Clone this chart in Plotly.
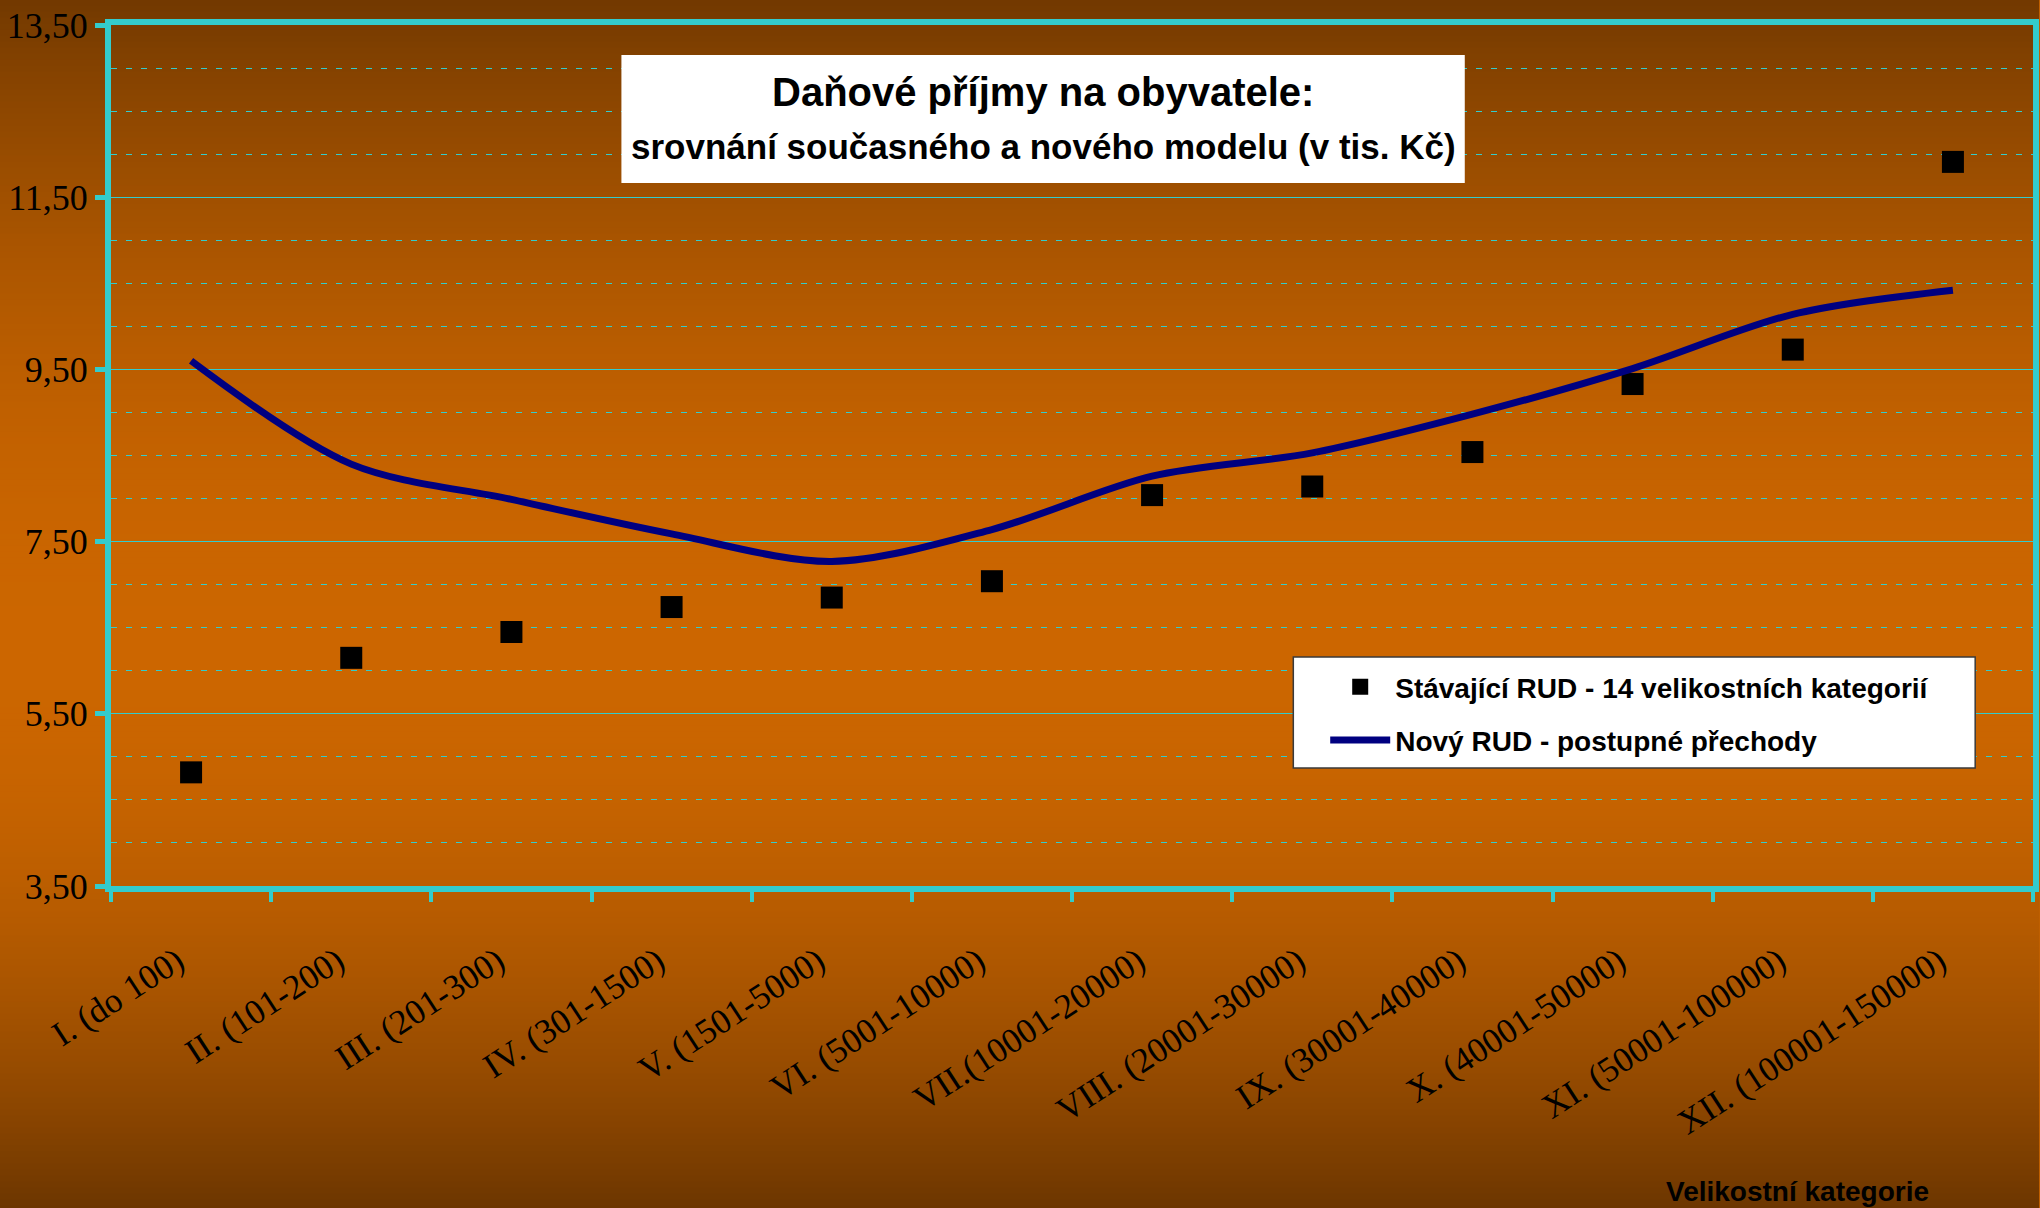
import plotly.graph_objects as go

# ---------------- data ----------------
categories = ["I. (do 100)", "II. (101-200)", "III. (201-300)", "IV. (301-1500)",
              "V. (1501-5000)", "VI. (5001-10000)", "VII.(10001-20000)",
              "VIII. (20001-30000)", "IX. (30001-40000)", "X. (40001-50000)",
              "XI. (50001-100000)", "XII. (100001-150000)"]
current_rud = [4.82, 6.15, 6.45, 6.74, 6.85, 7.04, 8.04, 8.14, 8.54, 9.33, 9.73, 11.91]
new_rud = [9.60, 8.40, 7.99, 7.59, 7.27, 7.64, 8.26, 8.53, 8.98, 9.51, 10.14, 10.42]
y_ticks = [3.5, 5.5, 7.5, 9.5, 11.5, 13.5]

name_current = "Stávající RUD - 14 velikostních kategorií"
name_new = "Nový RUD - postupné přechody"
title_1 = "Daňové příjmy na obyvatele:"
title_2 = "srovnání současného a nového modelu (v tis. Kč)"
x_title = "Velikostní kategorie"

# ---------------- geometry ----------------
W, H = 2040, 1208
ML, MR, MT, MB = 111, 1, 25, 322
PW, PH = W - ML - MR, H - MT - MB

def px(x):
    return (x - ML) / PW

def py(y):
    return (H - MB - y) / PH

SANS = "Liberation Sans, Arial, sans-serif"
SERIF = "Liberation Serif, Times New Roman, serif"
CYAN = "#33CCCC"

# ---------------- background gradient ----------------
top_c, peak_c, bot_c = (114, 57, 0), (204, 102, 0), (108, 54, 0)
peak_t = 0.54

def grad(t):
    if t <= peak_t:
        s = (peak_t - t) / peak_t
        end = top_c
    else:
        s = (t - peak_t) / (1 - peak_t)
        end = bot_c
    f = s * s
    return "rgb(%d,%d,%d)" % tuple(round(p + (e - p) * f) for p, e in zip(peak_c, end))

shapes = []
step = 6
for y0 in range(0, H, step):
    y1 = min(H, y0 + step)
    shapes.append(dict(type="rect", xref="paper", yref="paper",
                       x0=px(-5), x1=px(W + 5), y0=py(y0 - 0.5), y1=py(y1 + 0.5),
                       fillcolor=grad((y0 + y1) / 2 / H), line=dict(width=0),
                       layer="below"))

# title box and legend box
shapes.append(dict(type="rect", xref="paper", yref="paper",
                   x0=px(623), x1=px(1469), y0=py(183), y1=py(55),
                   fillcolor="white", line=dict(width=0), layer="above"))
shapes.append(dict(type="rect", xref="paper", yref="paper",
                   x0=px(1297), x1=px(1981), y0=py(768), y1=py(657),
                   fillcolor="white", line=dict(width=1.5, color="#3a3a3a"), layer="above"))

fig = go.Figure()
fig.add_trace(go.Scatter(x=categories, y=current_rud, mode="markers",
                         name="<b>%s</b>" % name_current, legendgroup="a",
                         marker=dict(symbol="square", size=22, color="black",
                                     line=dict(width=0))))
fig.add_trace(go.Scatter(x=categories, y=new_rud, mode="lines",
                         name="<b>%s</b>" % name_new, legendgroup="b",
                         line=dict(color="#000080", width=7, shape="spline", smoothing=0.9)))

annotations = [
    dict(text="<b>%s</b>" % title_1, x=px(1046), y=py(92), xref="paper", yref="paper",
         showarrow=False, font=dict(family=SANS, size=40, color="black"),
         xanchor="center", yanchor="middle"),
    dict(text="<b>%s</b>" % title_2, x=px(1046), y=py(147), xref="paper", yref="paper",
         showarrow=False, font=dict(family=SANS, size=35, color="black"),
         xanchor="center", yanchor="middle"),
    dict(text="<b>%s</b>" % x_title, x=px(1803), y=py(1191), xref="paper", yref="paper",
         showarrow=False, font=dict(family=SANS, size=28, color="black"),
         xanchor="center", yanchor="middle"),
]

fig.update_layout(
    width=W, height=H,
    margin=dict(l=ML, r=MR, t=MT, b=MB, pad=0),
    paper_bgcolor="rgb(190,95,0)",
    plot_bgcolor="rgba(0,0,0,0)",
    separators=", ",
    shapes=shapes,
    annotations=annotations,
    showlegend=True,
    legend=dict(x=px(1329), y=py(662), xanchor="left", yanchor="top",
                bgcolor="rgba(0,0,0,0)", borderwidth=0,
                font=dict(family=SANS, size=28, color="black"),
                itemwidth=60, tracegroupgap=14, traceorder="grouped",
                itemsizing="trace"),
    xaxis=dict(type="category", range=[-0.5, len(categories) - 0.5],
               showline=True, linecolor=CYAN, linewidth=6, mirror=True,
               ticks="outside", tickson="boundaries", ticklen=10, tickwidth=4,
               tickcolor=CYAN, tickangle=-33, ticklabelstandoff=35,
               ticklabelshift=-14,
               tickfont=dict(family=SERIF, size=35, color="black"),
               showgrid=False, zeroline=False),
    yaxis=dict(range=[3.5, 13.5], tickmode="array", tickvals=y_ticks, tickformat=".2f",
               showline=True, linecolor=CYAN, linewidth=6, mirror=True,
               ticks="outside", ticklen=10, tickwidth=5, tickcolor=CYAN,
               tickfont=dict(family=SERIF, size=36, color="black"),
               showgrid=True, gridcolor=CYAN, gridwidth=1, zeroline=False,
               minor=dict(tickmode="linear", tick0=3.5, dtick=0.5, showgrid=True,
                          gridcolor=CYAN, gridwidth=1, griddash="6px,9px")),
)

fig.write_html("out.html", config={"displayModeBar": False},
               post_script="document.body.style.margin='0';document.body.style.overflow='hidden';")
